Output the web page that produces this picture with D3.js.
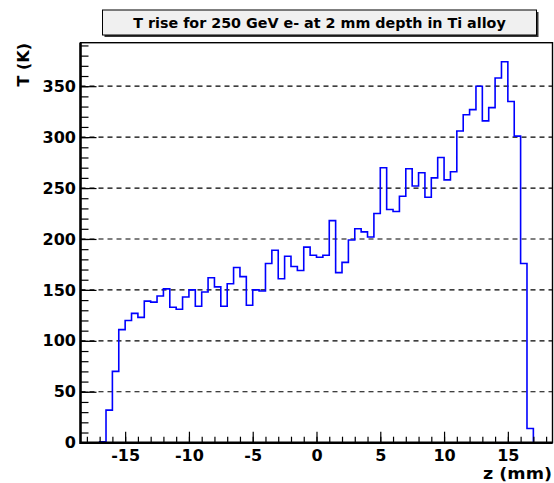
<!DOCTYPE html>
<html>
<head>
<meta charset="utf-8">
<script src="https://cdn.jsdelivr.net/npm/d3@7"></script>
<style>
  body { margin: 0; background: #fff; }
</style>
</head>
<body>
<div id="chart"></div>
<script>
// histogram binning: 74 bins of 0.5 mm from -18.5 to 18.5
const zMin = -18.5;
const zMax = 18.5;
const binWidth = 0.5;

// temperature rise per bin (K)
const tRise = [
  0, 0, 0, 1, 32, 70, 111, 120, 127, 123, 139, 138, 144, 151, 133, 131, 143,
  150, 134, 148, 162, 153, 134, 156, 172, 163, 135, 150, 149, 176, 189, 161,
  183, 173, 169, 192, 184, 182, 184, 218, 167, 177, 199, 210, 207, 202, 225,
  270, 229, 227, 242, 269, 252, 265, 241, 260, 280, 258, 266, 306, 322, 327,
  350, 316, 329, 358, 374, 335, 301, 176, 14, 0, 0, 0
];

const xMajor = [-15, -10, -5, 0, 5, 10, 15];
const xMinor = d3.range(-18, 19, 1);
const yMajor = [0, 50, 100, 150, 200, 250, 300, 350];
const yMinor = d3.range(0, 391, 10);
const gridLevels = [50, 100, 150, 200, 250, 300, 350];

const titleText = "T rise for 250 GeV e- at 2 mm depth in Ti alloy";
const xTitle = "z (mm)";
const yTitle = "T (K)";

const width = 554;
const height = 483;
const yMax = 1.05 * d3.max(tRise);

const x = d3.scaleLinear().domain([zMin, zMax]).range([80.5, 552.5]);
const y = d3.scaleLinear().domain([0, yMax]).range([442.7, 42.7]);

const svg = d3.select("#chart")
  .append("svg")
  .attr("width", width)
  .attr("height", height)
  .style("background", "white");

const font = "DejaVu Sans, Liberation Sans, sans-serif";

// grid
svg.append("g")
  .selectAll("line")
  .data(gridLevels)
  .enter()
  .append("line")
  .attr("x1", x(zMin))
  .attr("x2", x(zMax))
  .attr("y1", d => y(d))
  .attr("y2", d => y(d))
  .attr("stroke", "black")
  .attr("stroke-width", 1.2)
  .attr("stroke-dasharray", "5,4");

// histogram outline
const pts = [];
tRise.forEach((v, i) => {
  const lo = zMin + i * binWidth;
  pts.push([lo, v], [lo + binWidth, v]);
});
svg.append("path")
  .datum(pts)
  .attr("d", d3.line().x(d => x(d[0])).y(d => y(d[1])))
  .attr("fill", "none")
  .attr("stroke", "#0000ff")
  .attr("stroke-width", 1.6);

// frame
svg.append("rect")
  .attr("x", x(zMin))
  .attr("y", y(yMax))
  .attr("width", x(zMax) - x(zMin))
  .attr("height", y(0) - y(yMax))
  .attr("fill", "none")
  .attr("stroke", "black")
  .attr("stroke-width", 1.4);

// x axis
const xMinorAxis = svg.append("g")
  .attr("transform", `translate(0,${y(0)})`)
  .call(d3.axisBottom(x).tickValues(xMinor).tickSize(-6).tickFormat(""));
const xAxis = svg.append("g")
  .attr("transform", `translate(0,${y(0)})`)
  .call(d3.axisBottom(x).tickValues(xMajor).tickSize(-11).tickPadding(7).tickFormat(d3.format("d")));

// y axis
const yMinorAxis = svg.append("g")
  .attr("transform", `translate(${x(zMin)},0)`)
  .call(d3.axisLeft(y).tickValues(yMinor).tickSize(-8).tickFormat(""));
const yAxis = svg.append("g")
  .attr("transform", `translate(${x(zMin)},0)`)
  .call(d3.axisLeft(y).tickValues(yMajor).tickSize(-16).tickPadding(4.5).tickFormat(d3.format("d")));

[xMinorAxis, xAxis, yMinorAxis, yAxis].forEach(g => {
  g.select(".domain").remove();
  g.selectAll(".tick line").attr("stroke", "black").attr("stroke-width", 1.2);
});
[xAxis, yAxis].forEach(g => {
  g.attr("font-family", font).attr("font-size", 16).attr("font-weight", "bold");
  g.selectAll(".tick text").attr("fill", "black");
});
xAxis.selectAll(".tick text").text(d => d < 0 ? "-" + Math.abs(d) : d);

// thick axis lines
svg.append("line")
  .attr("x1", x(zMin)).attr("x2", x(zMax))
  .attr("y1", y(0)).attr("y2", y(0))
  .attr("stroke", "black").attr("stroke-width", 2.5);
svg.append("line")
  .attr("x1", x(zMin)).attr("x2", x(zMin))
  .attr("y1", y(0) + 1.2).attr("y2", y(yMax))
  .attr("stroke", "black").attr("stroke-width", 2.5);

// axis titles
svg.append("text")
  .attr("x", 552)
  .attr("y", 479)
  .attr("text-anchor", "end")
  .attr("font-family", font)
  .attr("font-size", 15)
  .attr("font-weight", "bold")
  .attr("textLength", 69)
  .attr("lengthAdjust", "spacingAndGlyphs")
  .text(xTitle);

svg.append("text")
  .attr("transform", "translate(28.5,43) rotate(-90)")
  .attr("text-anchor", "end")
  .attr("font-family", font)
  .attr("font-size", 16)
  .attr("font-weight", "bold")
  .text(yTitle);

// title box with shadow
svg.append("rect")
  .attr("x", 104.5).attr("y", 12)
  .attr("width", 434).attr("height", 25)
  .attr("fill", "#333");
svg.append("rect")
  .attr("x", 102.5).attr("y", 10)
  .attr("width", 434).attr("height", 25)
  .attr("fill", "#f0f0f0")
  .attr("stroke", "black")
  .attr("stroke-width", 1);
svg.append("text")
  .attr("x", 319.5)
  .attr("y", 27.5)
  .attr("text-anchor", "middle")
  .attr("font-family", font)
  .attr("font-size", 14.3)
  .attr("font-weight", "bold")
  .text(titleText);
</script>
</body>
</html>
